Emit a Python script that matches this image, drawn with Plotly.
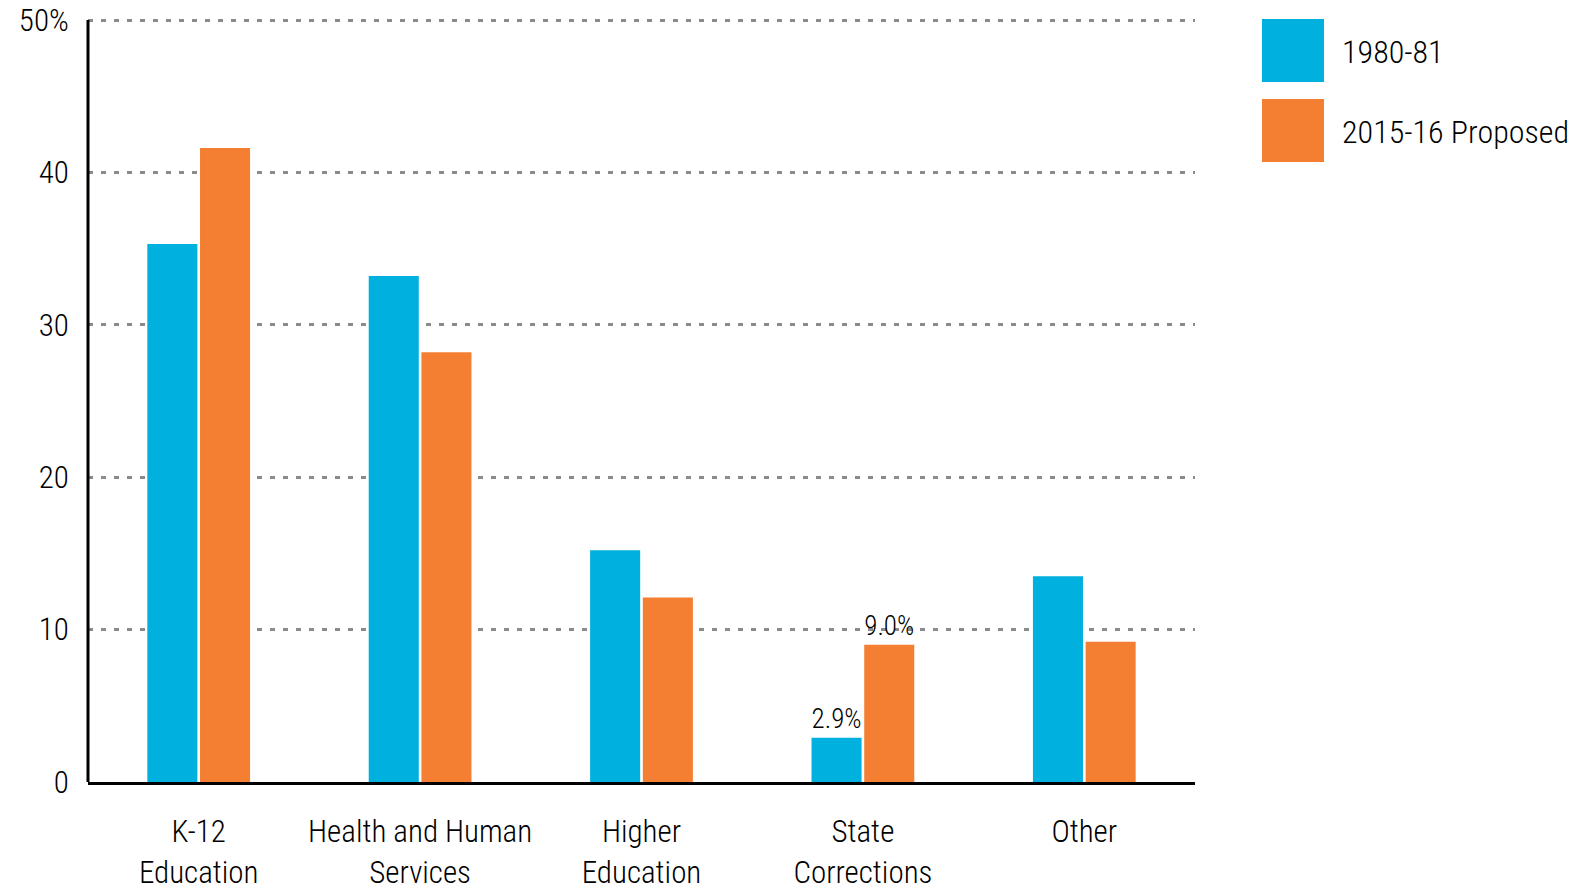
import plotly.graph_objects as go

categories = ["K-12<br>Education", "Health and Human<br>Services", "Higher<br>Education",
              "State<br>Corrections", "Other"]
share_1980 = [35.3, 33.2, 15.2, 2.9, 13.5]
share_2015 = [41.6, 28.2, 12.1, 9.0, 9.2]
labels_1980 = ["", "", "", "2.9%", ""]
labels_2015 = ["", "", "", "9.0%", ""]
series_names = ["1980-81", "2015-16 Proposed"]
y_ticks = [0, 10, 20, 30, 40, 50]
y_ticktext = ["0", "10", "20", "30", "40", "50%"]

BLUE = "#00B0DE"
ORANGE = "#F47F33"
FONT = "Liberation Sans Narrow, Roboto Condensed, Arial Narrow, sans-serif"

# plot area in page pixels (page body adds an 8px offset)
PX0, PX1, PY0, PY1 = 88, 1195, 17, 782


def px(x):
    return (x - PX0) / (PX1 - PX0)


def py(y):
    return (PY1 - y) / (PY1 - PY0)


fig = go.Figure()
for name, vals, labels, color in [
    (series_names[0], share_1980, labels_1980, BLUE),
    (series_names[1], share_2015, labels_2015, ORANGE),
]:
    fig.add_trace(go.Bar(
        name=name, x=categories, y=vals, marker_color=color,
        marker_line_width=0,
        text=labels, textposition="outside", cliponaxis=False,
        textfont=dict(size=27, color="black", family=FONT, weight=300),
        showlegend=False,
    ))

# legend drawn by hand: big square swatches
for i, (name, color) in enumerate(zip(series_names, [BLUE, ORANGE])):
    top = 19 + i * 80
    fig.add_shape(type="rect", xref="paper", yref="paper",
                  x0=px(1262), x1=px(1324), y0=py(top + 63), y1=py(top),
                  fillcolor=color, line_width=0)
    fig.add_annotation(text=name, xref="paper", yref="paper",
                       x=px(1340), xanchor="left", y=py(top + 33), yanchor="middle",
                       showarrow=False,
                       font=dict(size=32, color="black", family=FONT, weight=300))

fig.update_layout(
    width=1568, height=878,
    margin=dict(l=80, r=381, t=9, b=104, autoexpand=False),
    paper_bgcolor="white", plot_bgcolor="white",
    font=dict(family=FONT, color="black", size=31, weight=300),
    barmode="group", bargap=0.524, bargroupgap=0.05,
    xaxis=dict(
        range=[-0.5, 4.5], showline=True, linecolor="black", linewidth=3,
        ticks="outside", ticklen=20, tickcolor="white", showgrid=False,
        tickfont=dict(size=31), automargin=False,
    ),
    yaxis=dict(
        range=[0, 50.2], tickvals=y_ticks, ticktext=y_ticktext,
        showline=False,
        showgrid=True, gridcolor="#8a8a8a", griddash="5px,8px", gridwidth=2.5,
        zeroline=False, ticks="outside", ticklen=12, tickcolor="white",
        tickfont=dict(size=31), automargin=False, ticklabeloverflow="allow",
    ),
)
# y axis line runs from the baseline up to the 50% gridline
fig.add_shape(type="line", xref="paper", yref="y", x0=0, x1=0,
              y0=0, y1=y_ticks[-1], line=dict(color="black", width=3))

fig.write_html("out.html")
